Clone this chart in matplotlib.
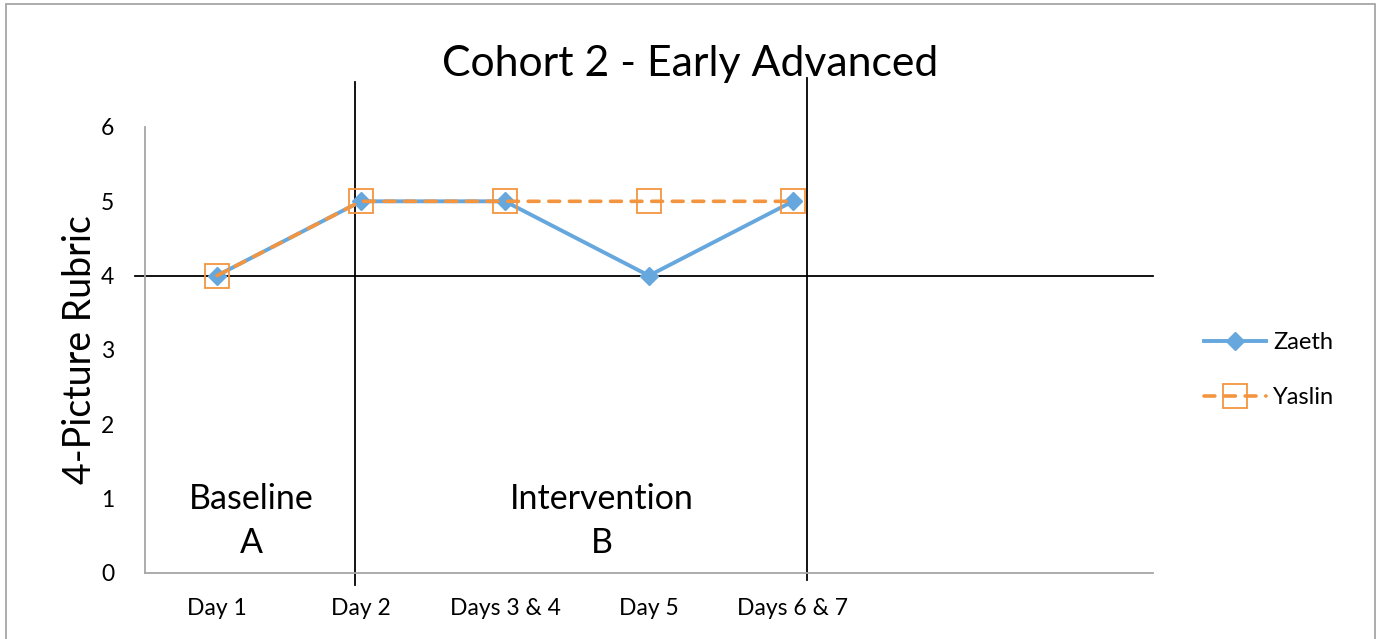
import matplotlib.pyplot as plt
from matplotlib.patches import Rectangle

plt.rcParams['font.family'] = ['Lato', 'DejaVu Sans']

# datos
dias = ['Day 1', 'Day 2', 'Days 3 & 4', 'Day 5', 'Days 6 & 7', '', '']
zaeth = [4, 5, 5, 4, 5]
yaslin = [4, 5, 5, 5, 5]

azul = '#66A7DD'
naranja = '#F3953F'

fig = plt.figure(figsize=(13.83, 6.39), dpi=100)
ax = fig.add_axes([0.1048, 0.1033, 0.7289, 0.698])

x = list(range(len(zaeth)))
ax.plot(x, zaeth, color=azul, linewidth=2.8, marker='D', markersize=9,
        label='Zaeth', zorder=3)
ax.plot(x, yaslin, color=naranja, linewidth=2.6, linestyle=(0, (3, 2.7)),
        dash_capstyle='round', marker='s', markersize=17,
        markerfacecolor='none', markeredgewidth=1.3, label='Yaslin',
        zorder=4)

ax.set_xlim(-0.5, len(dias) - 0.5)
ax.set_ylim(0, 6)
ax.set_xticks(range(len(dias)))
ax.set_xticklabels(dias)
ax.set_yticks(range(7))
ax.tick_params(axis='both', length=0, labelsize=16.5)
ax.tick_params(axis='x', pad=18)
ax.tick_params(axis='y', pad=22)
for s in ['top', 'right']:
    ax.spines[s].set_visible(False)
for s in ['left', 'bottom']:
    ax.spines[s].set_color('#A6A6A6')
    ax.spines[s].set_linewidth(1.3)

ax.set_ylabel('4-Picture Rubric', fontsize=27, labelpad=2)
fig.text(0.499, 0.9, 'Cohort 2 - Early Advanced', fontsize=30.8,
         ha='center', va='center')

# lineas de fase (dibujadas a mano en el original)
ax.plot([0.958, 0.958], [-0.16, 6.6], color='black', linewidth=1.3,
        clip_on=False, zorder=2)
ax.plot([4.097, 4.097], [-0.09, 6.66], color='black', linewidth=1.3,
        clip_on=False, zorder=2)
ax.plot([-0.57, 6.5], [4, 4], color='black', linewidth=1.3,
        clip_on=False, zorder=2)

ax.text(0.24, 0.7, 'Baseline\nA', fontsize=24.5, ha='center', va='center',
        linespacing=1.45)
ax.text(2.67, 0.7, 'Intervention\nB', fontsize=24.5, ha='center', va='center',
        linespacing=1.45)

ax.legend(loc='center left', bbox_to_anchor=(1.03, 0.455), frameon=False,
          fontsize=17, handlelength=2.6, labelspacing=1.45, handletextpad=0.3)

# borde del grafico
fig.add_artist(Rectangle((0.0045, -0.01), 0.9899, 1.004, fill=False,
                         edgecolor='#A6A6A6', linewidth=1.3,
                         transform=fig.transFigure))

plt.savefig('out.png', dpi=100)
